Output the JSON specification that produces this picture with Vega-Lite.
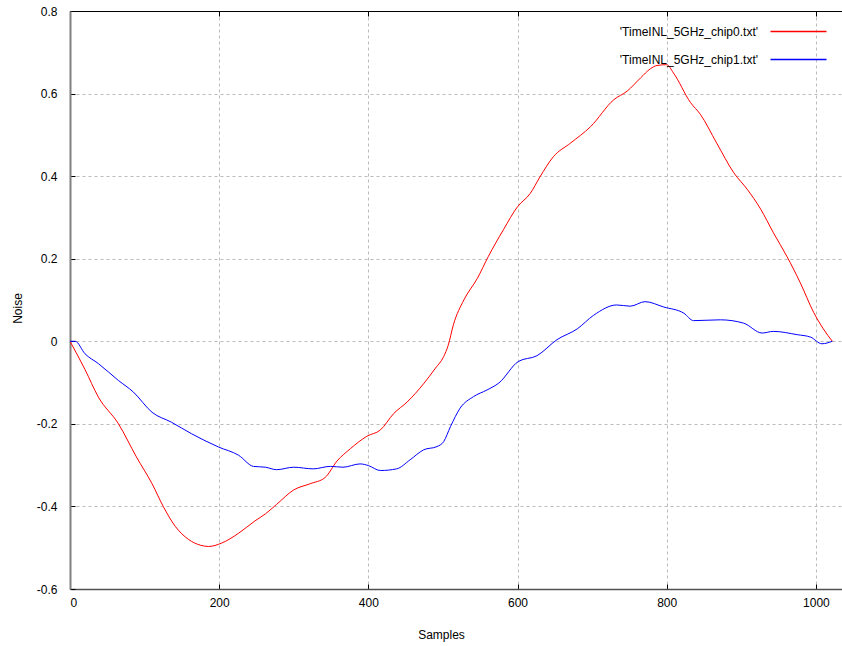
{
  "$schema": "https://vega.github.io/schema/vega-lite/v6.json",
  "autosize": "none",
  "width": 772,
  "height": 578,
  "padding": {"left": 70, "top": 11, "right": 0, "bottom": 57},
  "background": "white",
  "config": {
    "view": {"stroke": null},
    "font": "Liberation Sans",
    "axis": {
      "labelFont": "Liberation Sans", "labelFontSize": 12, "labelColor": "#000000",
      "titleFont": "Liberation Sans", "titleFontSize": 12, "titleFontWeight": "normal", "titleColor": "#000000",
      "gridColor": "#bbbbbb", "gridDash": [3, 3], "gridWidth": 1,
      "tickColor": "#000000", "tickSize": -5, "tickWidth": 1
    }
  },
  "data": {"values": [
    {"s": "'TimeINL_5GHz_chip0.txt'", "x": 0, "y": 0},
    {"s": "'TimeINL_5GHz_chip0.txt'", "x": 20, "y": -0.068},
    {"s": "'TimeINL_5GHz_chip0.txt'", "x": 38, "y": -0.135},
    {"s": "'TimeINL_5GHz_chip0.txt'", "x": 65, "y": -0.2},
    {"s": "'TimeINL_5GHz_chip0.txt'", "x": 89, "y": -0.28},
    {"s": "'TimeINL_5GHz_chip0.txt'", "x": 110, "y": -0.345},
    {"s": "'TimeINL_5GHz_chip0.txt'", "x": 125, "y": -0.4},
    {"s": "'TimeINL_5GHz_chip0.txt'", "x": 141, "y": -0.448},
    {"s": "'TimeINL_5GHz_chip0.txt'", "x": 159, "y": -0.48},
    {"s": "'TimeINL_5GHz_chip0.txt'", "x": 175, "y": -0.494},
    {"s": "'TimeINL_5GHz_chip0.txt'", "x": 186, "y": -0.497},
    {"s": "'TimeINL_5GHz_chip0.txt'", "x": 203, "y": -0.489},
    {"s": "'TimeINL_5GHz_chip0.txt'", "x": 226, "y": -0.465},
    {"s": "'TimeINL_5GHz_chip0.txt'", "x": 248, "y": -0.435},
    {"s": "'TimeINL_5GHz_chip0.txt'", "x": 262, "y": -0.418},
    {"s": "'TimeINL_5GHz_chip0.txt'", "x": 277, "y": -0.395},
    {"s": "'TimeINL_5GHz_chip0.txt'", "x": 300, "y": -0.36},
    {"s": "'TimeINL_5GHz_chip0.txt'", "x": 322, "y": -0.345},
    {"s": "'TimeINL_5GHz_chip0.txt'", "x": 342, "y": -0.33},
    {"s": "'TimeINL_5GHz_chip0.txt'", "x": 358, "y": -0.29},
    {"s": "'TimeINL_5GHz_chip0.txt'", "x": 376, "y": -0.26},
    {"s": "'TimeINL_5GHz_chip0.txt'", "x": 398, "y": -0.23},
    {"s": "'TimeINL_5GHz_chip0.txt'", "x": 416, "y": -0.215},
    {"s": "'TimeINL_5GHz_chip0.txt'", "x": 434, "y": -0.175},
    {"s": "'TimeINL_5GHz_chip0.txt'", "x": 452, "y": -0.147},
    {"s": "'TimeINL_5GHz_chip0.txt'", "x": 474, "y": -0.103},
    {"s": "'TimeINL_5GHz_chip0.txt'", "x": 490, "y": -0.065},
    {"s": "'TimeINL_5GHz_chip0.txt'", "x": 501, "y": -0.037},
    {"s": "'TimeINL_5GHz_chip0.txt'", "x": 507, "y": -0.01},
    {"s": "'TimeINL_5GHz_chip0.txt'", "x": 514, "y": 0.04},
    {"s": "'TimeINL_5GHz_chip0.txt'", "x": 528, "y": 0.1},
    {"s": "'TimeINL_5GHz_chip0.txt'", "x": 546, "y": 0.152},
    {"s": "'TimeINL_5GHz_chip0.txt'", "x": 561, "y": 0.206},
    {"s": "'TimeINL_5GHz_chip0.txt'", "x": 581, "y": 0.27},
    {"s": "'TimeINL_5GHz_chip0.txt'", "x": 600, "y": 0.326},
    {"s": "'TimeINL_5GHz_chip0.txt'", "x": 617, "y": 0.358},
    {"s": "'TimeINL_5GHz_chip0.txt'", "x": 630, "y": 0.398},
    {"s": "'TimeINL_5GHz_chip0.txt'", "x": 648, "y": 0.447},
    {"s": "'TimeINL_5GHz_chip0.txt'", "x": 671, "y": 0.48},
    {"s": "'TimeINL_5GHz_chip0.txt'", "x": 698, "y": 0.52},
    {"s": "'TimeINL_5GHz_chip0.txt'", "x": 729, "y": 0.585},
    {"s": "'TimeINL_5GHz_chip0.txt'", "x": 747, "y": 0.606},
    {"s": "'TimeINL_5GHz_chip0.txt'", "x": 765, "y": 0.638},
    {"s": "'TimeINL_5GHz_chip0.txt'", "x": 778, "y": 0.66},
    {"s": "'TimeINL_5GHz_chip0.txt'", "x": 787, "y": 0.668},
    {"s": "'TimeINL_5GHz_chip0.txt'", "x": 800, "y": 0.67},
    {"s": "'TimeINL_5GHz_chip0.txt'", "x": 809, "y": 0.65},
    {"s": "'TimeINL_5GHz_chip0.txt'", "x": 832, "y": 0.578},
    {"s": "'TimeINL_5GHz_chip0.txt'", "x": 845, "y": 0.55},
    {"s": "'TimeINL_5GHz_chip0.txt'", "x": 867, "y": 0.48},
    {"s": "'TimeINL_5GHz_chip0.txt'", "x": 890, "y": 0.408},
    {"s": "'TimeINL_5GHz_chip0.txt'", "x": 908, "y": 0.368},
    {"s": "'TimeINL_5GHz_chip0.txt'", "x": 926, "y": 0.32},
    {"s": "'TimeINL_5GHz_chip0.txt'", "x": 943, "y": 0.263},
    {"s": "'TimeINL_5GHz_chip0.txt'", "x": 961, "y": 0.206},
    {"s": "'TimeINL_5GHz_chip0.txt'", "x": 979, "y": 0.142},
    {"s": "'TimeINL_5GHz_chip0.txt'", "x": 997, "y": 0.07},
    {"s": "'TimeINL_5GHz_chip0.txt'", "x": 1010, "y": 0.03},
    {"s": "'TimeINL_5GHz_chip0.txt'", "x": 1022, "y": 0.0},
    {"s": "'TimeINL_5GHz_chip1.txt'", "x": 0, "y": 0},
    {"s": "'TimeINL_5GHz_chip1.txt'", "x": 7, "y": 0},
    {"s": "'TimeINL_5GHz_chip1.txt'", "x": 20, "y": -0.03},
    {"s": "'TimeINL_5GHz_chip1.txt'", "x": 38, "y": -0.054},
    {"s": "'TimeINL_5GHz_chip1.txt'", "x": 65, "y": -0.095},
    {"s": "'TimeINL_5GHz_chip1.txt'", "x": 85, "y": -0.123},
    {"s": "'TimeINL_5GHz_chip1.txt'", "x": 110, "y": -0.172},
    {"s": "'TimeINL_5GHz_chip1.txt'", "x": 136, "y": -0.196},
    {"s": "'TimeINL_5GHz_chip1.txt'", "x": 163, "y": -0.224},
    {"s": "'TimeINL_5GHz_chip1.txt'", "x": 199, "y": -0.256},
    {"s": "'TimeINL_5GHz_chip1.txt'", "x": 226, "y": -0.276},
    {"s": "'TimeINL_5GHz_chip1.txt'", "x": 246, "y": -0.303},
    {"s": "'TimeINL_5GHz_chip1.txt'", "x": 262, "y": -0.305},
    {"s": "'TimeINL_5GHz_chip1.txt'", "x": 277, "y": -0.311},
    {"s": "'TimeINL_5GHz_chip1.txt'", "x": 300, "y": -0.305},
    {"s": "'TimeINL_5GHz_chip1.txt'", "x": 326, "y": -0.309},
    {"s": "'TimeINL_5GHz_chip1.txt'", "x": 349, "y": -0.303},
    {"s": "'TimeINL_5GHz_chip1.txt'", "x": 366, "y": -0.305},
    {"s": "'TimeINL_5GHz_chip1.txt'", "x": 389, "y": -0.297},
    {"s": "'TimeINL_5GHz_chip1.txt'", "x": 400, "y": -0.301},
    {"s": "'TimeINL_5GHz_chip1.txt'", "x": 416, "y": -0.313},
    {"s": "'TimeINL_5GHz_chip1.txt'", "x": 438, "y": -0.309},
    {"s": "'TimeINL_5GHz_chip1.txt'", "x": 456, "y": -0.287},
    {"s": "'TimeINL_5GHz_chip1.txt'", "x": 474, "y": -0.263},
    {"s": "'TimeINL_5GHz_chip1.txt'", "x": 492, "y": -0.255},
    {"s": "'TimeINL_5GHz_chip1.txt'", "x": 501, "y": -0.243},
    {"s": "'TimeINL_5GHz_chip1.txt'", "x": 510, "y": -0.207},
    {"s": "'TimeINL_5GHz_chip1.txt'", "x": 523, "y": -0.162},
    {"s": "'TimeINL_5GHz_chip1.txt'", "x": 541, "y": -0.134},
    {"s": "'TimeINL_5GHz_chip1.txt'", "x": 559, "y": -0.118},
    {"s": "'TimeINL_5GHz_chip1.txt'", "x": 575, "y": -0.101},
    {"s": "'TimeINL_5GHz_chip1.txt'", "x": 601, "y": -0.049},
    {"s": "'TimeINL_5GHz_chip1.txt'", "x": 626, "y": -0.035},
    {"s": "'TimeINL_5GHz_chip1.txt'", "x": 653, "y": 0.004},
    {"s": "'TimeINL_5GHz_chip1.txt'", "x": 680, "y": 0.03},
    {"s": "'TimeINL_5GHz_chip1.txt'", "x": 702, "y": 0.063},
    {"s": "'TimeINL_5GHz_chip1.txt'", "x": 733, "y": 0.088},
    {"s": "'TimeINL_5GHz_chip1.txt'", "x": 751, "y": 0.085},
    {"s": "'TimeINL_5GHz_chip1.txt'", "x": 771, "y": 0.096},
    {"s": "'TimeINL_5GHz_chip1.txt'", "x": 796, "y": 0.083},
    {"s": "'TimeINL_5GHz_chip1.txt'", "x": 823, "y": 0.068},
    {"s": "'TimeINL_5GHz_chip1.txt'", "x": 836, "y": 0.05},
    {"s": "'TimeINL_5GHz_chip1.txt'", "x": 872, "y": 0.052},
    {"s": "'TimeINL_5GHz_chip1.txt'", "x": 903, "y": 0.044},
    {"s": "'TimeINL_5GHz_chip1.txt'", "x": 928, "y": 0.02},
    {"s": "'TimeINL_5GHz_chip1.txt'", "x": 943, "y": 0.024},
    {"s": "'TimeINL_5GHz_chip1.txt'", "x": 975, "y": 0.016},
    {"s": "'TimeINL_5GHz_chip1.txt'", "x": 993, "y": 0.01},
    {"s": "'TimeINL_5GHz_chip1.txt'", "x": 1008, "y": -0.006},
    {"s": "'TimeINL_5GHz_chip1.txt'", "x": 1022, "y": 0}
  ]},
  "resolve": {"axis": {"x": "independent"}},
  "layer": [
    {
      "mark": {"type": "line", "strokeWidth": 1, "clip": true, "interpolate": "monotone"},
      "encoding": {
        "x": {
          "field": "x", "type": "quantitative",
          "scale": {"domain": [0, 1035], "nice": false, "zero": false},
          "axis": {
            "orient": "bottom",
            "values": [0, 200, 400, 600, 800, 1000],
            "format": "d",
            "grid": true,
            "domainColor": "#505050", "domainWidth": 1.5,
            "labelPadding": 13,
            "title": "Samples",
            "titleX": 371, "titleY": 45, "titleBaseline": "middle", "titleAnchor": null
          }
        },
        "y": {
          "field": "y", "type": "quantitative",
          "scale": {"domain": [-0.6, 0.8], "nice": false, "zero": false},
          "axis": {
            "values": [-0.6, -0.4, -0.2, 0, 0.2, 0.4, 0.6, 0.8],
            "labelExpr": "replace(format(datum.value, '.1~f'), '\u2212', '-')",
            "grid": true,
            "gridColor": {"condition": {"test": "datum.value >= 0.79", "value": "#000000"}, "value": "#bbbbbb"},
            "gridDash": {"condition": {"test": "datum.value >= 0.79", "value": []}, "value": [3, 3]},
            "domainColor": "#808080", "domainWidth": 2,
            "labelPadding": 18,
            "title": "Noise",
            "titleAngle": -90,
            "titleX": -53, "titleY": 297, "titleBaseline": "middle", "titleAlign": "center"
          }
        },
        "color": {
          "field": "s", "type": "nominal",
          "scale": {"domain": ["'TimeINL_5GHz_chip0.txt'", "'TimeINL_5GHz_chip1.txt'"], "range": ["#ff0000", "#0000ff"]},
          "legend": {
            "title": null,
            "orient": "none",
            "legendX": 722,
            "legendY": 14,
            "padding": 0,
            "symbolType": "M-5,0H5",
            "symbolSize": 125.44,
            "symbolStrokeWidth": 1.5,
            "labelAlign": "right",
            "labelOffset": -47,
            "labelFont": "Liberation Sans",
            "labelFontSize": 12,
            "labelColor": "#000000",
            "rowPadding": 15,
            "labelLimit": 400
          }
        }
      }
    },
    {
      "mark": {"type": "line", "opacity": 0, "clip": true},
      "encoding": {
        "x": {
          "field": "x", "type": "quantitative",
          "axis": {
            "orient": "top",
            "values": [0, 200, 400, 600, 800, 1000],
            "labels": false,
            "grid": false,
            "domain": true,
            "domainColor": "#000000",
            "domainWidth": 1,
            "title": null
          }
        },
        "y": {"field": "y", "type": "quantitative"},
        "detail": {"field": "s", "type": "nominal"}
      }
    }
  ]
}
